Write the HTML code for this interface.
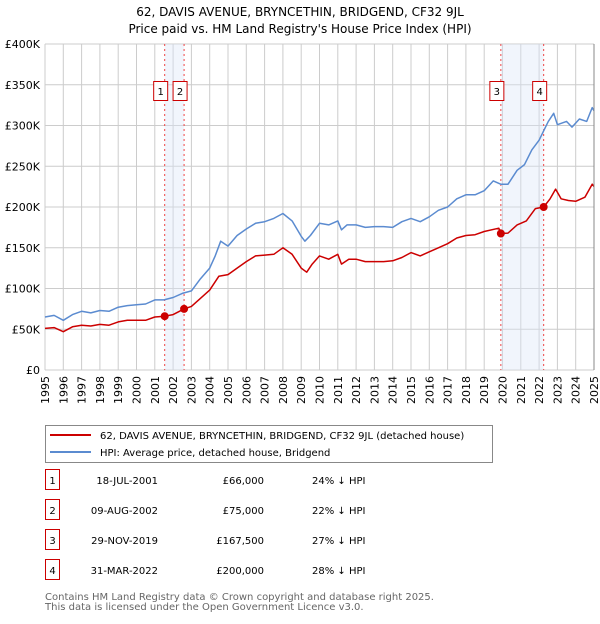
<!DOCTYPE html>
<html><head><meta charset="utf-8"><style>
body{margin:0;background:#fff;font-family:"DejaVu Sans","Liberation Sans",sans-serif;}
svg text{font-family:"DejaVu Sans","Liberation Sans",sans-serif;}
</style></head><body>
<svg width="600" height="620" viewBox="0 0 600 620">
<text x="300" y="16" text-anchor="middle" font-size="12">62, DAVIS AVENUE, BRYNCETHIN, BRIDGEND, CF32 9JL</text>
<text x="300" y="33" text-anchor="middle" font-size="12">Price paid vs. HM Land Registry's House Price Index (HPI)</text>
<g id="grid"></g>
<g id="bands"></g>
<g id="series"></g>
<g id="axes"></g>
<g>
<rect x="45.5" y="425.5" width="447" height="37" fill="#fff" stroke="#888"/>
<line x1="50" y1="435" x2="91" y2="435" stroke="#cc0000" stroke-width="2"/>
<text x="100" y="439" font-size="10">62, DAVIS AVENUE, BRYNCETHIN, BRIDGEND, CF32 9JL (detached house)</text>
<line x1="50" y1="452" x2="91" y2="452" stroke="#5b8bd0" stroke-width="2"/>
<text x="100" y="456" font-size="10">HPI: Average price, detached house, Bridgend</text>
</g>
<g id="table"></g>
<text x="45" y="600" font-size="10" fill="#666">Contains HM Land Registry data © Crown copyright and database right 2025.</text>
<text x="45" y="610" font-size="10" fill="#666">This data is licensed under the Open Government Licence v3.0.</text>
</svg>
<script>
const yTicks=[0,50,100,150,200,250,300,350,400];
const yTickLabels=["£0","£50K","£100K","£150K","£200K","£250K","£300K","£350K","£400K"];
const years=[1995,1996,1997,1998,1999,2000,2001,2002,2003,2004,2005,2006,2007,2008,2009,2010,2011,2012,2013,2014,2015,2016,2017,2018,2019,2020,2021,2022,2023,2024,2025];
const hpiT=[1995,1995.5,1996,1996.5,1997,1997.5,1998,1998.5,1999,1999.5,2000,2000.5,2001,2001.5,2002,2002.5,2003,2003.5,2004,2004.3,2004.6,2005,2005.5,2006,2006.5,2007,2007.5,2008,2008.5,2009,2009.2,2009.5,2010,2010.5,2011,2011.2,2011.5,2012,2012.5,2013,2013.5,2014,2014.5,2015,2015.5,2016,2016.5,2017,2017.5,2018,2018.5,2019,2019.5,2019.9,2020.3,2020.8,2021.2,2021.6,2022,2022.5,2022.8,2023,2023.5,2023.8,2024.2,2024.6,2024.9,2025];
const hpiV=[65,67,61,68,72,70,73,72,77,79,80,81,86,86,89,94,97,112,125,140,158,152,165,173,180,182,186,192,183,164,158,165,180,178,183,172,178,178,175,176,176,175,182,186,182,188,196,200,210,215,215,220,232,228,228,245,252,270,282,305,315,301,305,298,308,305,322,318];
const ppT=[1995,1995.5,1996,1996.5,1997,1997.5,1998,1998.5,1999,1999.5,2000,2000.5,2001,2001.54,2002,2002.6,2003,2003.5,2004,2004.5,2005,2005.5,2006,2006.5,2007,2007.5,2008,2008.5,2009,2009.3,2009.6,2010,2010.5,2011,2011.2,2011.6,2012,2012.5,2013,2013.5,2014,2014.5,2015,2015.5,2016,2016.5,2017,2017.5,2018,2018.5,2019,2019.8,2019.91,2020.3,2020.8,2021.3,2021.8,2022.25,2022.6,2022.9,2023.2,2023.6,2024,2024.5,2024.9,2025];
const ppV=[51,52,47,53,55,54,56,55,59,61,61,61,65,66,68,75,78,88,98,115,117,125,133,140,141,142,150,142,125,120,130,140,136,142,130,136,136,133,133,133,134,138,144,140,145,150,155,162,165,166,170,174,167.5,168,178,183,198,200,210,222,210,208,207,212,228,225];
const saleT=[2001.54,2002.6,2019.91,2022.25];
const saleV=[66,75,167.5,200];
const saleLabels=["1","2","3","4"];
const saleDates=["18-JUL-2001","09-AUG-2002","29-NOV-2019","31-MAR-2022"];
const salePrices=["£66,000","£75,000","£167,500","£200,000"];
const saleDiffs=["24% ↓ HPI","22% ↓ HPI","27% ↓ HPI","28% ↓ HPI"];
const bandPairs=[[0,1],[2,3]];

const X0=45,X1=594,Y0=370,Y1=44;
function xs(t){return X0+(t-1995)/30*(X1-X0);}
function ys(v){return Y0-v/400*(Y0-Y1);}
const NS="http://www.w3.org/2000/svg";
function mk(tag,attrs,parent,txt){const e=document.createElementNS(NS,tag);for(const k in attrs)e.setAttribute(k,attrs[k]);if(txt!==undefined)e.textContent=txt;parent.appendChild(e);return e;}
const grid=document.getElementById('grid'),bands=document.getElementById('bands'),series=document.getElementById('series'),axes=document.getElementById('axes'),table=document.getElementById('table');
years.forEach(y=>{const l=mk('line',{x1:xs(y),x2:xs(y),y1:Y1,y2:Y0,stroke:'#cccccc','stroke-width':1},grid);


const t=mk('text',{x:0,y:0,'font-size':11,'text-anchor':'end',transform:`translate(${xs(y)+4},376) rotate(-90)`},axes,String(y));

});
yTicks.forEach((v,i)=>{const l=mk('line',{x1:X0,x2:X1,y1:ys(v),y2:ys(v),stroke:'#cccccc','stroke-width':1},grid);


const t=mk('text',{x:40,y:ys(v)+4,'font-size':11,'text-anchor':'end'},axes,yTickLabels[i]);

});
bandPairs.forEach(p=>{const r=mk('rect',{x:xs(saleT[p[0]]),y:Y1,width:xs(saleT[p[1]])-xs(saleT[p[0]]),height:Y0-Y1,fill:'#dde6f8','fill-opacity':0.4},bands);

});
saleT.forEach((t,i)=>{const l=mk('line',{x1:xs(t),x2:xs(t),y1:Y1,y2:Y0,stroke:'#ee4444','stroke-dasharray':'2,3','stroke-width':1},bands);


const g=mk('g',{},bands);


mk('rect',{x:xs(t)-11,y:81.5,width:14,height:19,fill:'#fff',stroke:'#cc0000'},g);
mk('text',{x:xs(t)-4,y:95,'font-size':10,'text-anchor':'middle'},g,saleLabels[i]);});
function path(T,V,col,name){const d=T.map((t,i)=>(i?'L':'M')+xs(t).toFixed(1)+','+ys(V[i]).toFixed(1)).join('');
const p=mk('path',{d:d,fill:'none',stroke:col,'stroke-width':1.5,'stroke-linejoin':'round'},series);

}
path(hpiT,hpiV,'#5b8bd0','hpi-line');
path(ppT,ppV,'#cc0000','price-paid-line');
saleT.forEach((t,i)=>{const c=mk('circle',{cx:xs(t),cy:ys(saleV[i]),r:4,fill:'#cc0000'},series);

});
mk('line',{x1:X1,x2:X1,y1:Y1,y2:Y0,stroke:'#888'},axes);
saleLabels.forEach((s,i)=>{const y=483+30*i;const g=mk('g',{},table);


mk('rect',{x:45.5,y:y-13.5,width:14,height:20,fill:'#fff',stroke:'#cc0000'},g);
mk('text',{x:52.5,y:y+1,'font-size':10,'text-anchor':'middle'},g,s);
mk('text',{x:158,y:y+1,'font-size':10,'text-anchor':'end'},g,saleDates[i]);
mk('text',{x:264,y:y+1,'font-size':10,'text-anchor':'end'},g,salePrices[i]);
mk('text',{x:312,y:y+1,'font-size':10},g,saleDiffs[i]);});
</script>
</body></html>
